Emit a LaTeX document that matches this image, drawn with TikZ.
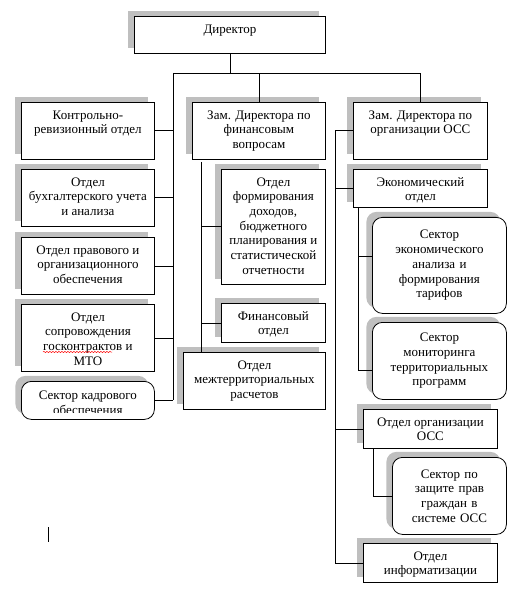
\documentclass[tikz,border=0pt]{standalone}
\usepackage{fontspec}
\setmainfont{Liberation Serif}
\usetikzlibrary{shadows,decorations.pathmorphing}
\definecolor{shgray}{RGB}{191,191,191}
\tikzset{
  base/.style={draw=black, line width=0.8pt, fill=white, inner sep=0pt, anchor=north west,
    font=\fontsize{13}{14.7}\selectfont,
    drop shadow={shadow xshift=-6pt, shadow yshift=5.5pt, fill=shgray, opacity=1}},
  sqbox/.style={base},
  rndbox/.style={base, rounded corners=10pt, align=center},
  plaintext/.style={inner sep=0pt, align=center, font=\fontsize{13}{14.7}\selectfont},
  conn/.style={line width=0.8pt, draw=black},
}
\newcommand\sqb[6]{\node[sqbox] (#1) at (#2,#3) {\parbox[c][#5pt][t]{#4pt}{\centering\vspace*{6.5pt}\strut #6\par}};}
\newcommand\rdb[6]{\node[rndbox, minimum width=#4pt, minimum height=#5pt, text width=#4pt] (#1) at (#2,#3) {#6};}
\begin{document}
\begin{tikzpicture}[x=1pt, y=-1pt]
\useasboundingbox (0,0) rectangle (526,593);
% top
\sqb{dir}{134}{16}{191}{37}{Директор}
% left column
\sqb{kr}{21}{102}{133}{57}{Контрольно-\\ревизионный отдел}
\sqb{bu}{21}{169}{133}{57}{Отдел\\бухгалтерского учета\\и анализа}
\sqb{pr}{21}{237}{133}{57}{Отдел правового и\\организационного\\обеспечения}
\sqb{so}{21}{304}{133}{67}{Отдел\\сопровождения\\госконтрактов и\\МТО}
\rdb{ka}{21}{381}{133}{38}{}
\begin{scope}
  \clip (21,381) rectangle (154,412);
  \node[plaintext, anchor=north] (katext) at ([yshift=-8pt]ka.north) {\strut Сектор кадрового\\обеспечения};
\end{scope}
% middle column
\sqb{df}{192}{102}{133}{57}{Зам. Директора по\\финансовым\\вопросам}
\sqb{fo}{221}{169}{104}{115}{Отдел\\формирования\\доходов,\\бюджетного\\планирования и\\статистической\\отчетности}
\sqb{fi}{221}{303}{104}{39}{Финансовый\\отдел}
\sqb{mt}{183}{352}{142}{57}{Отдел\\межтерриториальных\\расчетов}
% right column
\sqb{do}{353}{102}{134}{57}{Зам. Директора по\\организации ОСС}
\sqb{ek}{353}{169}{134}{38}{Экономический\\отдел}
\rdb{sea}{372}{217}{134}{96}{Сектор\\экономического\\анализа и\\формирования\\тарифов}
\rdb{smo}{372}{322}{134}{77}{Сектор\\мониторинга\\территориальных\\программ}
\sqb{oo}{363}{409}{134}{39}{Отдел организации\\ОСС}
\rdb{zp}{392}{457}{114}{77}{Сектор по\\защите прав\\граждан в\\системе ОСС}
\sqb{inf}{363}{543}{134}{39}{Отдел\\информатизации}
% connectors
\coordinate (busL) at (173,73);
\coordinate (busR) at (421,73);
\draw[conn] (dir.south) -- (dir.south |- busL);
\draw[conn] (busL) -- (busR);
\draw[conn] (df.north) -- (df.north |- busL);
\draw[conn] (do.north) -- (do.north |- busL);
\draw[conn] (busL) -- (busL |- ka.east);
\foreach \n in {kr,bu,pr,so,ka} \draw[conn] (\n.east) -- (\n.east -| busL);
\coordinate (mT) at (201,162);
\draw[conn] (mT) -- (mT |- mt.north);
\draw[conn] (fo.west) -- (fo.west -| mT);
\draw[conn] (fi.west) -- (fi.west -| mT);
\coordinate (rT) at (335,131);
\draw[conn] (do.west) -- (do.west -| rT) -- (rT |- inf.west) -- (inf.west);
\draw[conn] (ek.west) -- (ek.west -| rT);
\draw[conn] (oo.west) -- (oo.west -| rT);
\coordinate (e1) at (358,256);
\coordinate (e2) at (358,370);
\draw[conn] (ek.south -| e1) -- (e2) -- (e2 -| smo.west);
\draw[conn] (e1) -- (e1 -| sea.west);
\coordinate (o1) at (373,448);
\draw[conn] (oo.south -| o1) |- (zp.west);
% spell-check underline and cursor
\draw[red, line width=0.5pt, decorate, decoration={snake, amplitude=0.6pt, segment length=3pt}] (43,352) -- (112,352);
\draw[line width=0.8pt] (48,527) -- (48,542);
\end{tikzpicture}
\end{document}
